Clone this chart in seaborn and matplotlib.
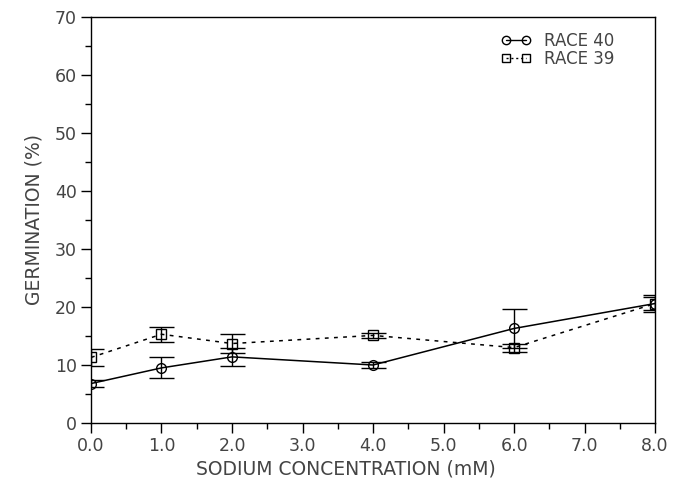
import matplotlib
matplotlib.use("Agg")
import matplotlib.pyplot as plt
from matplotlib.ticker import MultipleLocator, FormatStrFormatter
from matplotlib.lines import Line2D
import pandas as pd
import seaborn as sns

# --------------------------- data ---------------------------
sodium_mm = [0.0, 1.0, 2.0, 4.0, 6.0, 8.0]
race40_mean = [6.8, 9.5, 11.4, 10.0, 16.3, 20.6]
race40_err = [0.6, 1.8, 1.6, 0.5, 3.4, 1.5]
race39_mean = [11.3, 15.3, 13.7, 15.1, 13.0, 20.6]
race39_err = [1.5, 1.3, 1.6, 0.5, 0.7, 1.2]

df = pd.DataFrame({
    "sodium": sodium_mm * 2,
    "germ": race40_mean + race39_mean,
    "err": race40_err + race39_err,
    "race": ["RACE 40"] * len(sodium_mm) + ["RACE 39"] * len(sodium_mm),
})

# --------------------------- style ---------------------------
sns.set_theme(style="ticks")
plt.rcParams["font.family"] = ["DejaVu Sans"]
TXT = "#444444"

fig = plt.figure(figsize=(6.81, 4.91), dpi=100)
ax = fig.add_axes([0.1336, 0.1385, 0.8284, 0.8269])

styles = {"RACE 40": dict(marker="o", ls="-"), "RACE 39": dict(marker="s", ls=(0, (2.5, 3.5)))}
for race, sub in df.groupby("race", sort=False):
    st = styles[race]
    ax.errorbar(sub["sodium"], sub["germ"], yerr=sub["err"], fmt="none",
                ecolor="black", elinewidth=1.0, capsize=9, capthick=1.0, zorder=2)
    sns.lineplot(data=sub, x="sodium", y="germ", ax=ax, color="black",
                 linestyle=st["ls"], linewidth=1.1, marker=st["marker"],
                 markersize=7, markerfacecolor="none", markeredgecolor="black",
                 markeredgewidth=1.0, zorder=3, legend=False)

ax.set_xlim(0, 8)
ax.set_ylim(0, 70)
ax.xaxis.set_major_locator(MultipleLocator(1))
ax.xaxis.set_minor_locator(MultipleLocator(0.5))
ax.yaxis.set_major_locator(MultipleLocator(10))
ax.yaxis.set_minor_locator(MultipleLocator(5))
ax.xaxis.set_major_formatter(FormatStrFormatter("%.1f"))
ax.tick_params(which="major", length=7, width=1.0, color="black", labelsize=12.5,
               labelcolor=TXT, direction="out", pad=3)
ax.tick_params(which="minor", length=4, width=1.0, color="black", direction="out")
for sp in ax.spines.values():
    sp.set_visible(True)
    sp.set_color("black")
    sp.set_linewidth(1.0)

ax.set_xlabel("SODIUM CONCENTRATION (mM)", fontsize=13.5, color=TXT)
ax.xaxis.set_label_coords(0.452, -0.09)
ax.set_ylabel("GERMINATION (%)", fontsize=13.5, color=TXT, labelpad=8)

handles = [
    Line2D([], [], color="black", ls="-", lw=1.0, marker="o", ms=6,
           mfc="none", mec="black"),
    Line2D([], [], color="black", ls=(0, (1.5, 2)), lw=1.0, marker="s", ms=6,
           mfc="none", mec="black"),
]
leg = ax.legend(handles, ["RACE 40", "RACE 39"], loc="upper right",
                bbox_to_anchor=(0.955, 1.0), frameon=False, fontsize=12,
                numpoints=2, handlelength=1.8, handletextpad=0.8, labelspacing=0.0)
for t in leg.get_texts():
    t.set_color(TXT)

fig.savefig("out.png", dpi=100)
